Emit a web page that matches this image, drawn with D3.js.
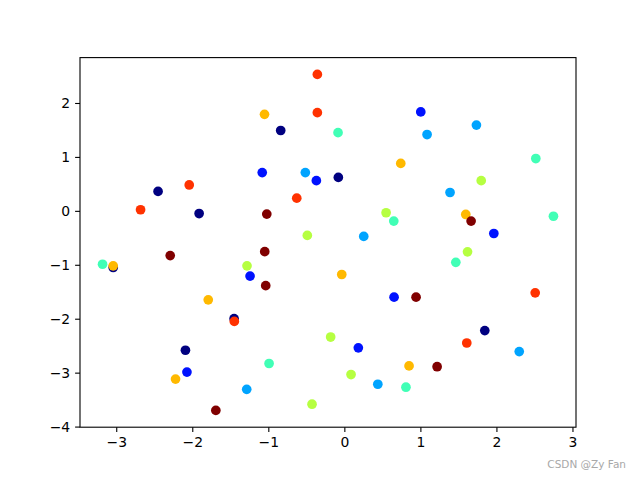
<!DOCTYPE html>
<html><head><meta charset="utf-8">
<script src="https://cdn.jsdelivr.net/npm/d3@7"></script>
<style>body{margin:0;background:#fff}svg{display:block}text{font-family:"DejaVu Sans",sans-serif}</style>
</head><body>
<svg id="c" width="640" height="480"></svg>
<script>
const xs = [-2.04,-2.45,-2.68,-1.91,-0.355,-1.05,-0.355,-0.837,-0.083,0.742,-1.08,-0.513,-0.368,-0.079,-0.626,-1.02,0.549,0.65,-0.487,0.255,1.005,1.737,1.088,2.518,1.80,1.39,1.597,1.667,2.75,1.966,-3.18,-3.04,-3.04,-2.29,-1.28,-1.24,-1.79,-1.45,-1.447,-2.09,-2.07,-2.22,-1.284,-1.69,-1.047,-1.034,-0.034,0.654,-0.18,0.184,-0.99,0.088,0.44,0.81,-0.425,1.62,1.466,0.943,2.51,1.847,1.61,2.30,0.851,1.22];
const ys = [0.48,0.36,0.02,-0.05,2.53,1.79,1.82,1.49,1.45,0.88,0.71,0.71,0.56,0.62,0.235,-0.06,-0.035,-0.19,-0.455,-0.474,1.835,1.59,1.415,0.97,0.56,0.34,-0.067,-0.19,-0.10,-0.42,-0.99,-1.05,-1.02,-0.83,-1.02,-1.21,-1.65,-2.0,-2.05,-2.585,-2.99,-3.12,-3.31,-3.70,-0.757,-1.387,-1.18,-1.60,-2.34,-2.54,-2.83,-3.035,-3.215,-3.27,-3.585,-0.76,-0.955,-1.60,-1.52,-2.22,-2.45,-2.61,-2.875,-2.89];
const levels = [6,0,6,0,6,5,6,0,3,5,1,2,1,0,6,7,4,3,4,2,1,2,2,3,4,2,5,7,3,1,3,0,5,7,4,1,5,0,6,0,1,5,2,7,7,7,5,1,4,1,3,4,2,3,4,4,3,7,6,0,6,2,5,7];
const xTicks = [-3,-2,-1,0,1,2,3];
const yTicks = [-4,-3,-2,-1,0,1,2];

// matplotlib jet colormap
const jetSeg = {
  r: [[0,0],[0.35,0],[0.66,1],[0.89,1],[1,0.5]],
  g: [[0,0],[0.125,0],[0.375,1],[0.64,1],[0.91,0],[1,0]],
  b: [[0,0.5],[0.11,1],[0.34,1],[0.65,0],[1,0]]
};
function seg(s, t){
  for(let i=1;i<s.length;i++){
    if(t<=s[i][0]){const [x0,y0]=s[i-1],[x1,y1]=s[i];return y0+(y1-y0)*(t-x0)/(x1-x0);}
  }
  return s[s.length-1][1];
}
function jet(t){return d3.rgb(255*seg(jetSeg.r,t),255*seg(jetSeg.g,t),255*seg(jetSeg.b,t)).toString();}

const svg = d3.select("#c");
const L=80,R=576,T=57.6,B=427.2;
const pad=(e)=>{const d=e[1]-e[0];return [e[0]-0.05*d,e[1]+0.05*d];};
const x = d3.scaleLinear().domain(pad(d3.extent(xs))).range([L,R]);
const y = d3.scaleLinear().domain(pad(d3.extent(ys))).range([B,T]);
const color = d3.scaleSequential(jet).domain([0,7]);

const pts = xs.map((v,i)=>({x:v,y:ys[i],c:levels[i]})).sort((a,b)=>a.c-b.c);
svg.append("g").selectAll("circle").data(pts).join("circle")
  .attr("cx",d=>x(d.x)).attr("cy",d=>y(d.y)).attr("r",4.85)
  .attr("fill",d=>color(d.c));

const fmt = d3.format("d");
const xa = svg.append("g").attr("transform",`translate(0,${B})`)
  .call(d3.axisBottom(x).tickValues(xTicks).tickFormat(fmt).tickSize(4.9).tickPadding(4.9));
const ya = svg.append("g").attr("transform",`translate(${L},0)`)
  .call(d3.axisLeft(y).tickValues(yTicks).tickFormat(fmt).tickSize(4.9).tickPadding(4.9));
[xa,ya].forEach(a=>{
  a.select(".domain").remove();
  a.selectAll("line").attr("stroke","#000").attr("stroke-width",1.1);
  a.selectAll("text").attr("font-size","13.9px").attr("font-family","DejaVu Sans").attr("fill","#000");
});
svg.append("rect").attr("x",L).attr("y",T).attr("width",R-L).attr("height",B-T)
  .attr("fill","none").attr("stroke","#000").attr("stroke-width",1.1);

svg.append("text").attr("x",626).attr("y",468).attr("text-anchor","end")
  .attr("font-size","10.5px").attr("fill","#a8a8a8").text("CSDN @Zy Fan");
</script>
</body></html>
